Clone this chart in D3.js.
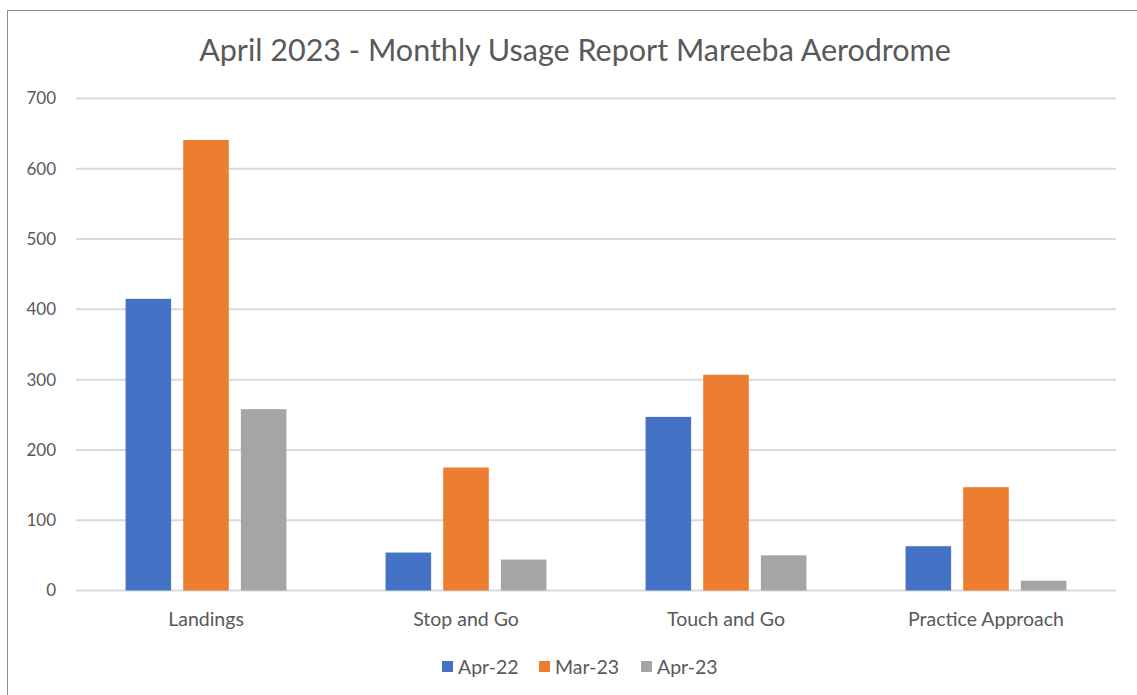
<!DOCTYPE html>
<html>
<head>
<meta charset="utf-8">
<script src="https://cdn.jsdelivr.net/npm/d3@7"></script>
<style>
  html, body { margin: 0; padding: 0; background: #fff; }
  svg { display: block; font-family: Lato, "Open Sans", sans-serif; }
</style>
</head>
<body>
<svg id="chart" width="1137" height="695"></svg>
<script>
const categories = ["Landings", "Stop and Go", "Touch and Go", "Practice Approach"];
const seriesNames = ["Apr-22", "Mar-23", "Apr-23"];
const apr22 = [415, 54, 247, 63];
const mar23 = [641, 175, 307, 147];
const apr23 = [258, 44, 50, 14];
const yTicks = [0, 100, 200, 300, 400, 500, 600, 700];
const colors = ["#4472C4", "#ED7D31", "#A5A5A5"];
const title = "April 2023 - Monthly Usage Report Mareeba Aerodrome";

const seriesValues = [apr22, mar23, apr23];
const svg = d3.select("#chart");

// chart border
svg.append("rect").attr("x", 7.5).attr("y", 10.5).attr("width", 1140).attr("height", 700)
  .attr("fill", "#fff").attr("stroke", "#8c8c8c").attr("stroke-width", 1);

const plot = { left: 76, right: 1116, top: 98.5, bottom: 590.5 };

const x = d3.scaleBand().domain(categories).range([plot.left, plot.right]).paddingInner(0).paddingOuter(0);
const xs = d3.scaleBand().domain(seriesNames).range([0, x.bandwidth()]).paddingInner(0.21).paddingOuter(0.86);
const y = d3.scaleLinear().domain([0, 700]).range([plot.bottom, plot.top]);

// gridlines
svg.append("g").selectAll("line").data(yTicks).join("line")
  .attr("x1", plot.left).attr("x2", plot.right)
  .attr("y1", d => y(d)).attr("y2", d => y(d))
  .attr("stroke", "#d9d9d9").attr("stroke-width", 2);

// y axis labels
const yAxis = d3.axisLeft(y).tickValues(yTicks).tickSize(0).tickPadding(0);
const gy = svg.append("g").attr("transform", `translate(${plot.left - 20},0)`).call(yAxis);
gy.select(".domain").remove();
gy.selectAll("text").attr("fill", "#595959").style("font-size", "17px").style("font-family", "Lato, sans-serif");

// bars
const groups = svg.append("g").selectAll("g").data(seriesNames).join("g").attr("fill", (d, i) => colors[i]);
groups.selectAll("rect").data((s, i) => categories.map((c, j) => ({ c, s, v: seriesValues[i][j] })))
  .join("rect")
  .attr("x", d => x(d.c) + xs(d.s))
  .attr("width", xs.bandwidth())
  .attr("y", d => y(d.v))
  .attr("height", d => y(0) - y(d.v));

// x axis labels
const xAxis = d3.axisBottom(x).tickSize(0).tickPadding(0);
const gx = svg.append("g").attr("transform", `translate(0,${plot.bottom + 22})`).call(xAxis);
gx.select(".domain").remove();
gx.selectAll("text").attr("fill", "#595959").style("font-size", "19.5px").style("font-family", "Lato, sans-serif");

// title
svg.append("text").attr("x", 575).attr("y", 61).attr("text-anchor", "middle")
  .attr("fill", "#595959").style("font-size", "30.5px").text(title);

// legend
const legendX = [442, 539, 641];
const lg = svg.append("g").selectAll("g").data(seriesNames).join("g")
  .attr("transform", (d, i) => `translate(${legendX[i]},${661})`);
lg.append("rect").attr("width", 11).attr("height", 11).attr("fill", (d, i) => colors[i]);
lg.append("text").attr("x", 16).attr("y", 6).attr("dy", "0.35em")
  .attr("fill", "#595959").style("font-size", "19.5px").text(d => d);
</script>
</body>
</html>
